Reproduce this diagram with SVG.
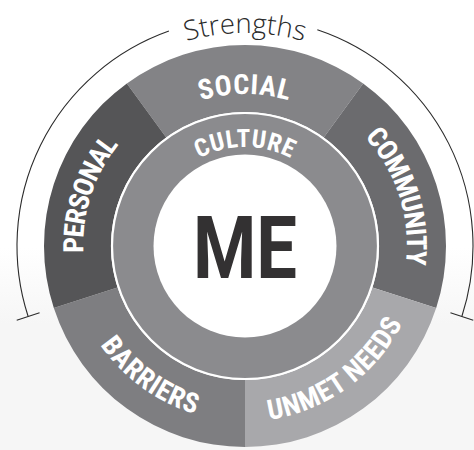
<svg xmlns="http://www.w3.org/2000/svg" xmlns:xlink="http://www.w3.org/1999/xlink" width="474" height="450" viewBox="0 0 474 450">
<defs>
<linearGradient id="bg" x1="0" y1="0" x2="0" y2="450" gradientUnits="userSpaceOnUse">
<stop offset="0.55" stop-color="#ffffff"/>
<stop offset="0.72" stop-color="#f6f6f6"/>
<stop offset="1" stop-color="#f6f6f6"/>
</linearGradient>
<path id="pSocial" d="M 113.36 170 A 152 152 0 0 1 376.64 170"/>
<path id="pCulture" d="M 147.5 228.81 A 99 99 0 0 1 342.5 228.81"/>
<path id="pPersonal" d="M 146.5 372.08 A 159 159 0 0 1 239.42 86.1"/>
<path id="pCommunity" d="M 250.58 86.1 A 159 159 0 0 1 343.5 372.08"/>
<path id="pBarriers" d="M 74.85 197.22 A 178 178 0 0 0 343.98 392.73"/>
<path id="pUnmet" d="M 146.02 392.73 A 178 178 0 0 0 415.15 197.22"/>
<path id="pStrengths" d="M 60.54 139.5 A 213 213 0 0 1 429.46 139.5"/>
</defs>
<style>
.seg{stroke:none}
.lbl{font-family:Roboto,"Liberation Sans",sans-serif;font-weight:700;font-size:28px;fill:#ffffff;font-stretch:condensed;letter-spacing:0.6px}
.frame{fill:none;stroke:#2b2b2b;stroke-width:1.1}
</style>
<rect x="0" y="0" width="474" height="450" fill="url(#bg)"/>

<g id="strengths">
<path class="frame" d="M 28.15 316.46 A 228 228 0 0 1 168.89 31.08"/>
<path class="frame" d="M 317.34 29.78 A 228 228 0 0 1 461.85 316.46"/>
<line class="frame" x1="39.56" y1="312.74" x2="16.74" y2="320.16"/>
<line class="frame" x1="450.44" y1="312.74" x2="473.26" y2="320.16"/>
<text font-family="'Open Sans','Liberation Sans',sans-serif" font-weight="300" font-size="27.5" fill="#2b2b2b"><textPath href="#pStrengths" xlink:href="#pStrengths" startOffset="50%" text-anchor="middle">Strengths</textPath></text>
</g>

<g id="social">
<path class="seg" fill="#838386" d="M 126.85 83.39 A 201 201 0 0 1 363.15 83.39 L 323.77 137.59 A 134 134 0 0 0 166.23 137.59 Z"/>
<text class="lbl"><textPath href="#pSocial" xlink:href="#pSocial" startOffset="50%" text-anchor="middle">SOCIAL</textPath></text>
</g>
<g id="community">
<path class="seg" fill="#6b6b6e" d="M 363.15 83.39 A 201 201 0 0 1 436.17 308.11 L 372.45 287.41 A 134 134 0 0 0 323.77 137.59 Z"/>
<text class="lbl" style="letter-spacing:-1px"><textPath href="#pCommunity" xlink:href="#pCommunity" startOffset="50%" text-anchor="middle">COMMUNITY</textPath></text>
</g>
<g id="unmet-needs">
<path class="seg" fill="#a8a8ab" d="M 436.17 308.11 A 201 201 0 0 1 245 447 L 245 380 A 134 134 0 0 0 372.45 287.41 Z"/>
<text class="lbl"><textPath href="#pUnmet" xlink:href="#pUnmet" startOffset="50%" text-anchor="middle">UNMET NEEDS</textPath></text>
</g>
<g id="barriers">
<path class="seg" fill="#7e7e81" d="M 245 447 A 201 201 0 0 1 53.83 308.11 L 117.55 287.41 A 134 134 0 0 0 245 380 Z"/>
<text class="lbl"><textPath href="#pBarriers" xlink:href="#pBarriers" startOffset="50%" text-anchor="middle">BARRIERS</textPath></text>
</g>
<g id="personal">
<path class="seg" fill="#555557" d="M 53.83 308.11 A 201 201 0 0 1 126.85 83.39 L 166.23 137.59 A 134 134 0 0 0 117.55 287.41 Z"/>
<text class="lbl" style="letter-spacing:-1.2px"><textPath href="#pPersonal" xlink:href="#pPersonal" startOffset="50%" text-anchor="middle">PERSONAL</textPath></text>
</g>

<g id="culture">
<circle cx="245" cy="246" r="133" fill="#8b8b8e" stroke="#ffffff" stroke-width="2.2"/>
<text class="lbl" style="font-size:25px"><textPath href="#pCulture" xlink:href="#pCulture" startOffset="50%" text-anchor="middle">CULTURE</textPath></text>
</g>

<g id="me">
<circle cx="245" cy="246" r="91.5" fill="#ffffff"/>
<text x="245" y="278" text-anchor="middle" font-family="Roboto,'Liberation Sans',sans-serif" font-weight="700" font-size="88" fill="#333132" textLength="104" lengthAdjust="spacingAndGlyphs">ME</text>
</g>
</svg>
